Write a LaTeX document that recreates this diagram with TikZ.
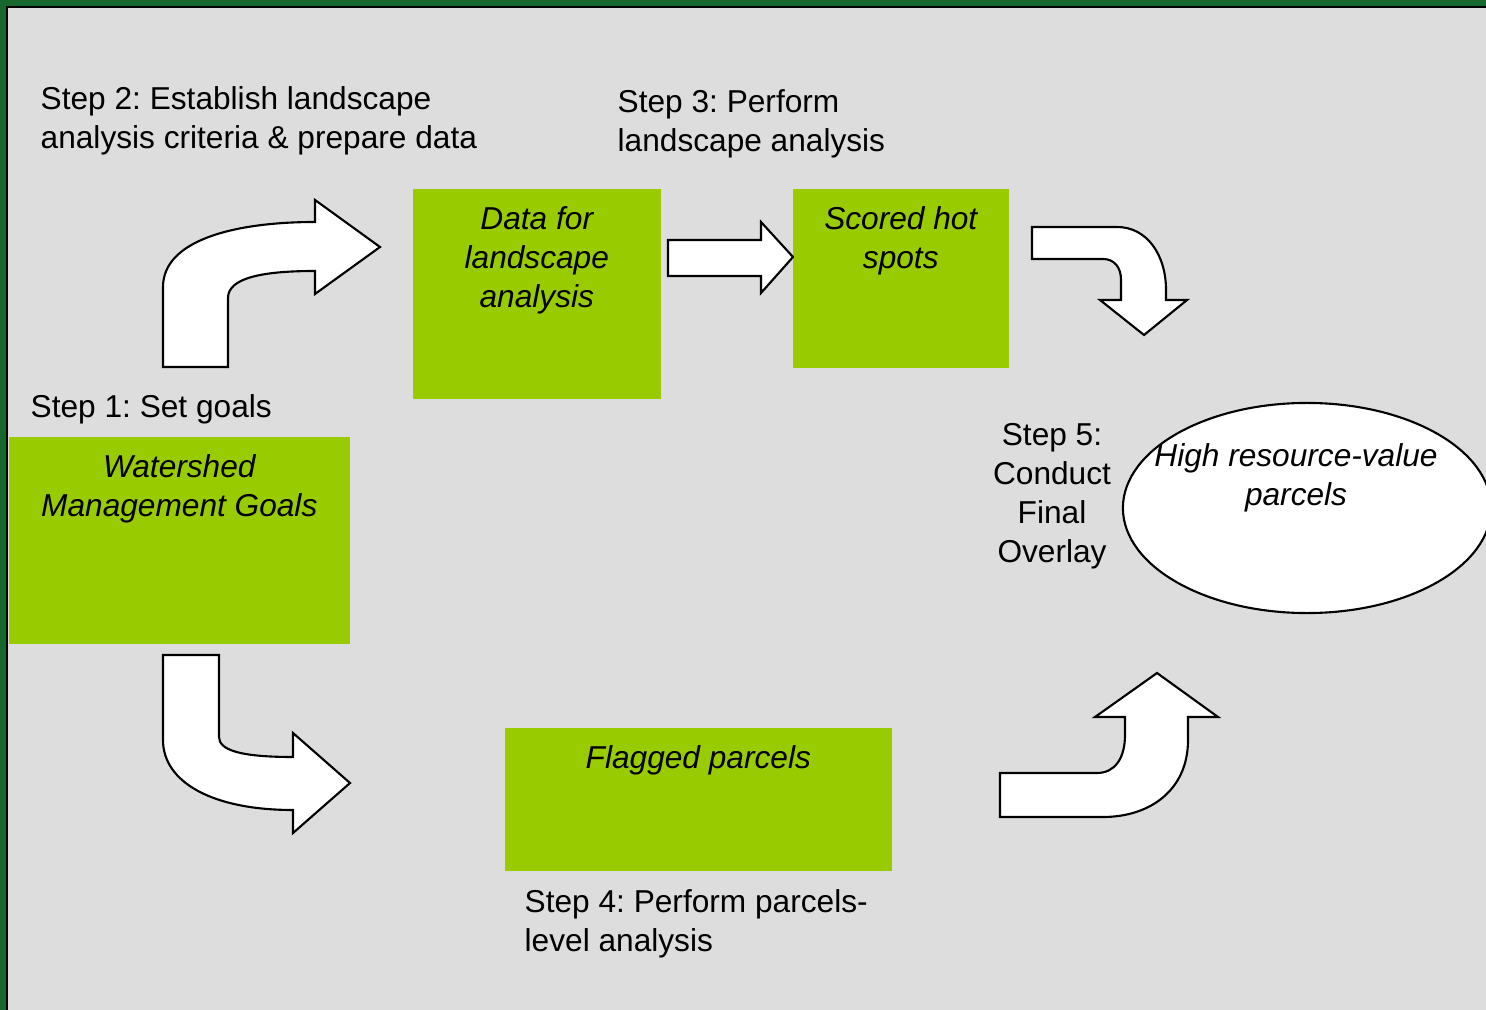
\documentclass[tikz,border=0pt]{standalone}
\usepackage{fontspec}
\setmainfont{Liberation Sans}
\frenchspacing
\usetikzlibrary{positioning,shapes.geometric}
\definecolor{framegreen}{RGB}{22,104,46}
\definecolor{slidegray}{RGB}{221,221,221}
\definecolor{boxgreen}{RGB}{153,204,0}
\tikzset{
  gbox/.style={fill=boxgreen, inner sep=0pt, anchor=north west},
  boxtxt/.style={font=\fontsize{9}{11.1}\selectfont\itshape, align=center, inner sep=0pt, anchor=north},
  steptxt/.style={font=\fontsize{9}{11.1}\selectfont, align=left, inner sep=0pt, anchor=north west},
  blockarrow/.style={fill=white, draw=black, line width=0.6pt, line join=miter},
}
\begin{document}
\begin{tikzpicture}[x=0.01cm,y=-0.01cm]
    \clip (0,0) rectangle (1486,1010);
    \fill[framegreen] (0,0) rectangle (1486,1010);
    \draw[fill=slidegray, line width=0.4pt] (7,7) rectangle (1500,1020);
    % step 1
    \node[steptxt] (step1) at (30,394) {Step 1: Set goals};
    \node[gbox, minimum width=3.41cm, minimum height=2.07cm] (goals) at (8,436) {};
    \node[boxtxt, below=0.18cm of goals.north] (goalstxt) {Watershed\\Management Goals};
    % step 2
    \node[steptxt] (step2) at (40,86) {Step 2: Establish landscape\\analysis criteria \& prepare data};
    \node[gbox, minimum width=2.48cm, minimum height=2.10cm] (data) at (412,188) {};
    \node[boxtxt, below=0.18cm of data.north] (datatxt) {Data for\\landscape\\analysis};
    % step 3
    \node[steptxt] (step3) at (617,89) {Step 3: Perform\\landscape analysis};
    \node[gbox, minimum width=2.16cm, minimum height=1.79cm] (hot) at (792,188) {};
    \node[boxtxt, below=0.18cm of hot.north] (hottxt) {Scored hot\\spots};
    % step 4
    \node[gbox, minimum width=3.87cm, minimum height=1.43cm] (flag) at (504,727) {};
    \node[boxtxt, below=0.18cm of flag.north] (flagtxt) {Flagged parcels};
    \node[steptxt] (step4) at (524,889) {Step 4: Perform parcels-\\level analysis};
    % step 5
    \node[steptxt, align=center, anchor=north] (step5) at (1052,423) {Step 5:\\Conduct\\Final\\Overlay};
    \node[ellipse, draw, fill=white, line width=0.6pt, inner sep=0pt,
          minimum width=3.68cm, minimum height=2.10cm] (hrv) at (1307,508) {};
    \node[boxtxt] (hrvtxt) at (1296,443) {High resource-value\\parcels};
    % block arrows
    \draw[blockarrow] (163,367) -- (163,287) .. controls (163,240) and (235,222) .. (315,222)
      -- (315,200) -- (380,247) -- (315,294) -- (315,271)
      .. controls (262,271) and (228,278) .. (228,298) -- (228,367) -- cycle;
    \draw[blockarrow] (668,240) -- (761,240) -- (761,222) -- (793,257) -- (761,293)
      -- (761,276) -- (668,276) -- cycle;
    \draw[blockarrow] (1032,227) -- (1117,227) .. controls (1147,227) and (1166,255) .. (1166,290)
      -- (1166,300) -- (1187,300) -- (1144,335) -- (1100,300) -- (1121,300) -- (1121,280)
      .. controls (1121,267) and (1114,259) .. (1103,259) -- (1032,259) -- cycle;
    \draw[blockarrow] (163,655) -- (219,655) -- (219,737) .. controls (219,750) and (240,757) .. (293,757)
      -- (293,733) -- (350,783) -- (293,833) -- (293,810)
      .. controls (212,810) and (163,782) .. (163,740) -- cycle;
    \draw[blockarrow] (1000,773) -- (1097,773) .. controls (1115,773) and (1125,758) .. (1125,735)
      -- (1125,717) -- (1095,717) -- (1157,673) -- (1218,717) -- (1188,717) -- (1188,740)
      .. controls (1188,790) and (1150,817) .. (1103,817) -- (1000,817) -- cycle;
\end{tikzpicture}
\end{document}
